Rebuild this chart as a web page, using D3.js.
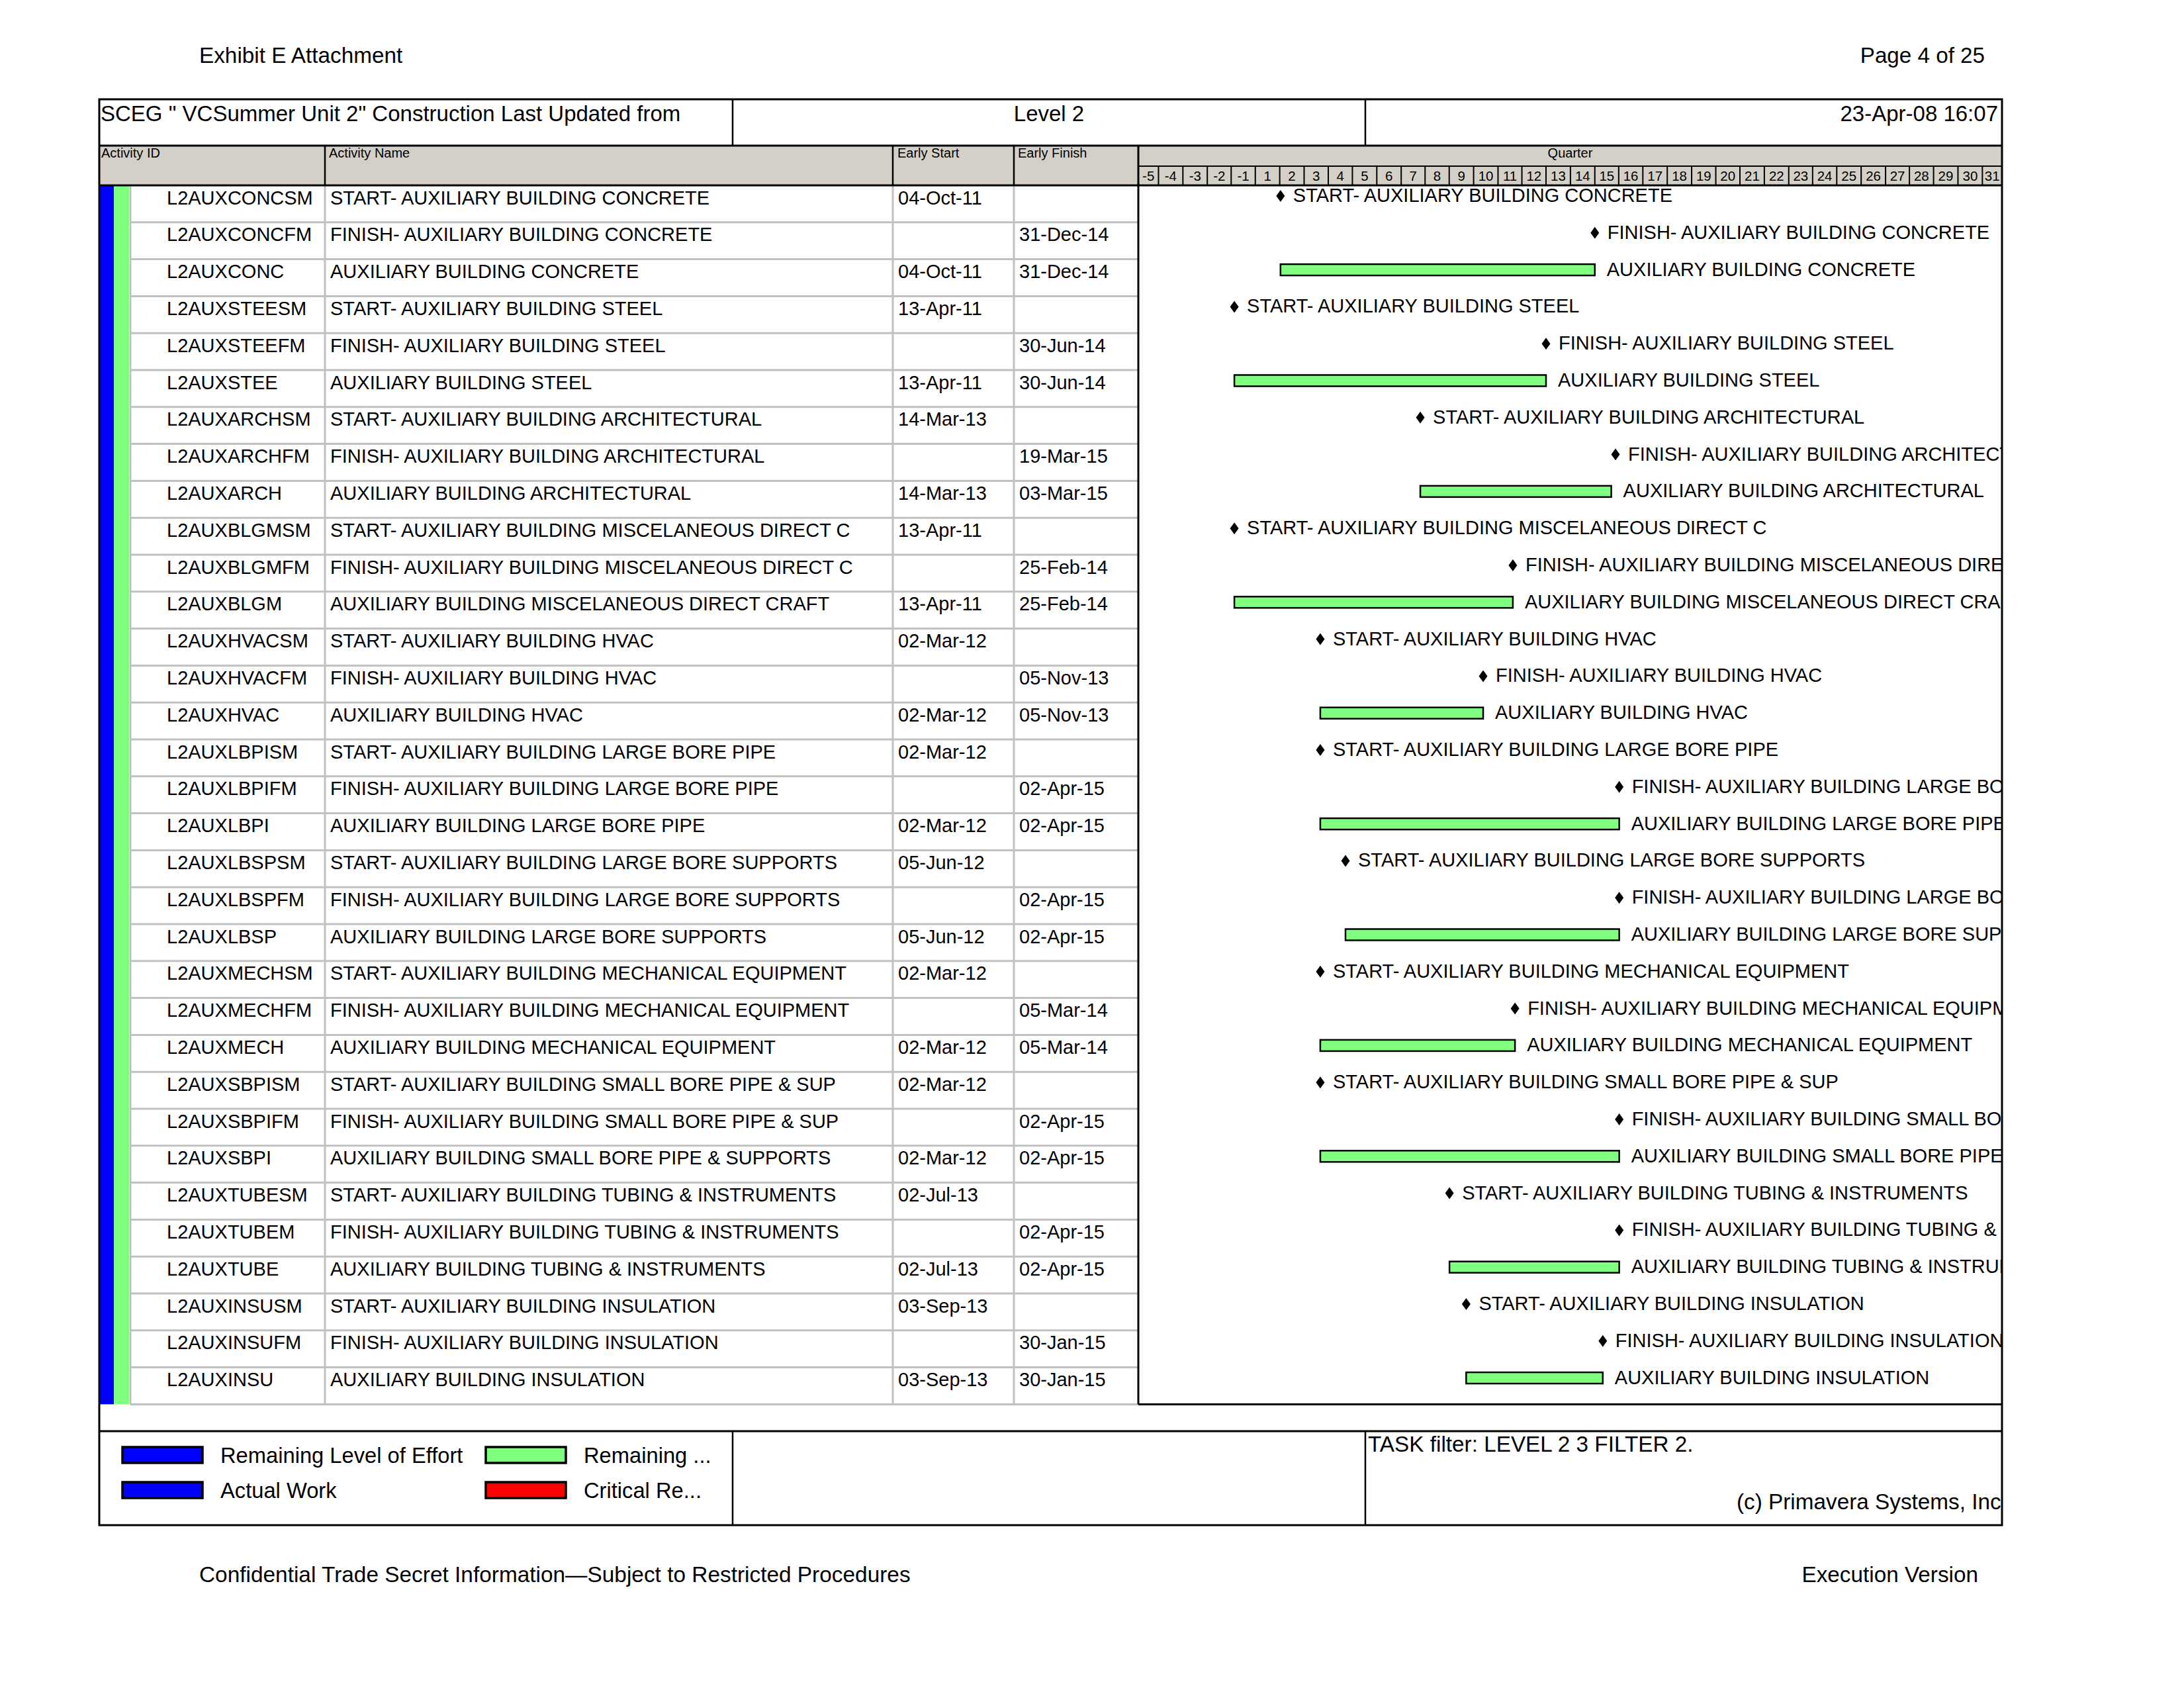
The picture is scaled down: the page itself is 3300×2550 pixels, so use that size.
<!DOCTYPE html>
<html><head><meta charset="utf-8">
<script src="https://cdn.jsdelivr.net/npm/d3@7"></script>
<style>
body{margin:0;background:#fff}
svg{display:block}
text{font-family:"Liberation Sans",Arial,sans-serif;fill:#000}
</style>
</head><body>
<svg id="c" width="3300" height="2550"></svg>
<script>
// ---------------- DATA ----------------
const activityIds = [
 "L2AUXCONCSM","L2AUXCONCFM","L2AUXCONC",
 "L2AUXSTEESM","L2AUXSTEEFM","L2AUXSTEE",
 "L2AUXARCHSM","L2AUXARCHFM","L2AUXARCH",
 "L2AUXBLGMSM","L2AUXBLGMFM","L2AUXBLGM",
 "L2AUXHVACSM","L2AUXHVACFM","L2AUXHVAC",
 "L2AUXLBPISM","L2AUXLBPIFM","L2AUXLBPI",
 "L2AUXLBSPSM","L2AUXLBSPFM","L2AUXLBSP",
 "L2AUXMECHSM","L2AUXMECHFM","L2AUXMECH",
 "L2AUXSBPISM","L2AUXSBPIFM","L2AUXSBPI",
 "L2AUXTUBESM","L2AUXTUBEM","L2AUXTUBE",
 "L2AUXINSUSM","L2AUXINSUFM","L2AUXINSU"
];
const activityNames = [
 "START- AUXILIARY BUILDING CONCRETE","FINISH- AUXILIARY BUILDING CONCRETE","AUXILIARY BUILDING CONCRETE",
 "START- AUXILIARY BUILDING STEEL","FINISH- AUXILIARY BUILDING STEEL","AUXILIARY BUILDING STEEL",
 "START- AUXILIARY BUILDING ARCHITECTURAL","FINISH- AUXILIARY BUILDING ARCHITECTURAL","AUXILIARY BUILDING ARCHITECTURAL",
 "START- AUXILIARY BUILDING MISCELANEOUS DIRECT C","FINISH- AUXILIARY BUILDING MISCELANEOUS DIRECT C","AUXILIARY BUILDING MISCELANEOUS DIRECT CRAFT",
 "START- AUXILIARY BUILDING HVAC","FINISH- AUXILIARY BUILDING HVAC","AUXILIARY BUILDING HVAC",
 "START- AUXILIARY BUILDING LARGE BORE PIPE","FINISH- AUXILIARY BUILDING LARGE BORE PIPE","AUXILIARY BUILDING LARGE BORE PIPE",
 "START- AUXILIARY BUILDING LARGE BORE SUPPORTS","FINISH- AUXILIARY BUILDING LARGE BORE SUPPORTS","AUXILIARY BUILDING LARGE BORE SUPPORTS",
 "START- AUXILIARY BUILDING MECHANICAL EQUIPMENT","FINISH- AUXILIARY BUILDING MECHANICAL EQUIPMENT","AUXILIARY BUILDING MECHANICAL EQUIPMENT",
 "START- AUXILIARY BUILDING SMALL BORE PIPE & SUP","FINISH- AUXILIARY BUILDING SMALL BORE PIPE & SUP","AUXILIARY BUILDING SMALL BORE PIPE & SUPPORTS",
 "START- AUXILIARY BUILDING TUBING & INSTRUMENTS","FINISH- AUXILIARY BUILDING TUBING & INSTRUMENTS","AUXILIARY BUILDING TUBING & INSTRUMENTS",
 "START- AUXILIARY BUILDING INSULATION","FINISH- AUXILIARY BUILDING INSULATION","AUXILIARY BUILDING INSULATION"
];
const earlyStarts = [
 "04-Oct-11","","04-Oct-11",
 "13-Apr-11","","13-Apr-11",
 "14-Mar-13","","14-Mar-13",
 "13-Apr-11","","13-Apr-11",
 "02-Mar-12","","02-Mar-12",
 "02-Mar-12","","02-Mar-12",
 "05-Jun-12","","05-Jun-12",
 "02-Mar-12","","02-Mar-12",
 "02-Mar-12","","02-Mar-12",
 "02-Jul-13","","02-Jul-13",
 "03-Sep-13","","03-Sep-13"
];
const earlyFinishes = [
 "","31-Dec-14","31-Dec-14",
 "","30-Jun-14","30-Jun-14",
 "","19-Mar-15","03-Mar-15",
 "","25-Feb-14","25-Feb-14",
 "","05-Nov-13","05-Nov-13",
 "","02-Apr-15","02-Apr-15",
 "","02-Apr-15","02-Apr-15",
 "","05-Mar-14","05-Mar-14",
 "","02-Apr-15","02-Apr-15",
 "","02-Apr-15","02-Apr-15",
 "","30-Jan-15","30-Jan-15"
];
const quarterLabels = ["-5","-4","-3","-2","-1","1","2","3","4","5","6","7","8","9","10","11","12","13","14","15","16","17","18","19","20","21","22","23","24","25","26","27","28","29","30","31"];
const legendLabels = ["Remaining Level of Effort","Actual Work","Remaining ...","Critical Re..."];
const legendColors = ["#0000ff","#0000ff","#80ff80","#ff0000"];

// ---------------- LAYOUT ----------------
const svg = d3.select("#c");
const FL=150, FR=3025, FT=150, FB=2304;
const TITLE_B=220, QTOP=251, HDR_B=280;
const ROWH=55.8, NROW=activityIds.length;
const TAB_B = HDR_B + NROW*ROWH;
const LEG_T = 2162;
const GX0=1720, GX1=FR;
const colSep=[491,1349,1532];
const ROWFS = 29;
const parse = d3.timeParse("%d-%b-%y");

const x = d3.scaleTime().domain([new Date(2010,3,16), new Date(2019,2,16)]).range([GX0,GX1]);
const y = d3.scaleLinear().domain([0,NROW]).range([HDR_B,TAB_B]);

function txt(g,xx,yy,s,size,anchor){
  return g.append("text").attr("x",xx).attr("y",yy).attr("font-size",size)
    .attr("text-anchor",anchor||"start").text(s);
}
function line(x1,y1,x2,y2,color,w){
  svg.append("line").attr("x1",x1).attr("y1",y1).attr("x2",x2).attr("y2",y2)
   .attr("stroke",color).attr("stroke-width",w);
}

// page header / footer
txt(svg,301,95,"Exhibit E Attachment",33.3);
txt(svg,2999,95,"Page 4 of 25",33.2,"end");
txt(svg,301,2390,"Confidential Trade Secret Information\u2014Subject to Restricted Procedures",33.4);
txt(svg,2989,2390,"Execution Version",33.3,"end");

// header band
svg.append("rect").attr("x",FL).attr("y",TITLE_B).attr("width",FR-FL).attr("height",HDR_B-TITLE_B).attr("fill","#d4d0c8");

// title row
txt(svg,152,183,'SCEG " VCSummer Unit 2" Construction Last Updated from',33);
txt(svg,1585,183,"Level 2",33,"middle");
txt(svg,3019,183,"23-Apr-08 16:07",33,"end");

// column headers
txt(svg,153,238,"Activity ID",20);
txt(svg,497,238,"Activity Name",20);
txt(svg,1356,238,"Early Start",20);
txt(svg,1538,238,"Early Finish",20);
txt(svg,(GX0+GX1)/2,238,"Quarter",20,"middle");

// quarter cells
const qStarts = d3.timeMonth.range(new Date(2010,3,1), new Date(2019,3,1), 3);
const qg = svg.append("g");
qStarts.forEach((d,i)=>{
  const a = Math.max(GX0, x(d));
  const b = Math.min(GX1, x(d3.timeMonth.offset(d,3)));
  if(i>0) qg.append("line").attr("x1",a).attr("x2",a).attr("y1",QTOP).attr("y2",HDR_B).attr("stroke","#000").attr("stroke-width",2);
  txt(qg,(a+b)/2,273,quarterLabels[i],20.5,"middle");
});
line(GX0,QTOP,GX1,QTOP,"#000",2);

// color strips
svg.append("rect").attr("x",151).attr("y",HDR_B).attr("width",21).attr("height",TAB_B-HDR_B).attr("fill","#0000ff");
svg.append("rect").attr("x",172).attr("y",HDR_B).attr("width",23).attr("height",TAB_B-HDR_B).attr("fill","#80ff80");

// table grid
for(let i=1;i<=NROW;i++) line(197,y(i),GX0,y(i),"#c0c0c0",3);
[197].concat(colSep).forEach(cx=>line(cx,HDR_B,cx,TAB_B,"#c0c0c0",3));
colSep.forEach(cx=>line(cx,TITLE_B,cx,HDR_B,"#000",2.5));

// table text
const tg = svg.append("g");
activityIds.forEach((id,i)=>{
  const by = y(i)+28.5;
  txt(tg,252,by,id,ROWFS);
  txt(tg,499,by,activityNames[i],ROWFS);
  if(earlyStarts[i]) txt(tg,1357,by,earlyStarts[i],ROWFS);
  if(earlyFinishes[i]) txt(tg,1540,by,earlyFinishes[i],ROWFS);
});

// gantt
svg.append("clipPath").attr("id","gclip").append("rect")
  .attr("x",GX0).attr("y",HDR_B).attr("width",GX1-GX0-1).attr("height",TAB_B-HDR_B);
const gg = svg.append("g").attr("clip-path","url(#gclip)");
activityIds.forEach((id,i)=>{
  const s = earlyStarts[i] ? parse(earlyStarts[i]) : null;
  const f = earlyFinishes[i] ? d3.timeDay.offset(parse(earlyFinishes[i]),1) : null;
  const top = y(i);
  if(s && f){
    const x0=x(s), x1=x(f);
    gg.append("rect").attr("x",x0).attr("y",top+7.5).attr("width",x1-x0).attr("height",17)
      .attr("fill","#80ff80").attr("stroke","#000").attr("stroke-width",2.5);
    txt(gg,x1+18,top+25,activityNames[i],ROWFS);
  } else {
    const xm = x(s||f), cy = top+16;
    gg.append("path").attr("d",`M${xm},${cy-9}L${xm+6.5},${cy}L${xm},${cy+9}L${xm-6.5},${cy}Z`).attr("fill","#000");
    txt(gg,xm+19,top+25,activityNames[i],ROWFS);
  }
});

// gantt borders
line(GX0,TITLE_B,GX0,TAB_B,"#000",3);
line(GX0,TAB_B,GX1,TAB_B,"#000",3);

// frame & dividers
line(FL,TITLE_B,FR,TITLE_B,"#000",3);
line(FL,HDR_B,FR,HDR_B,"#000",3);
line(1107,FT,1107,TITLE_B,"#000",2.5);
line(2063,FT,2063,TITLE_B,"#000",2.5);
line(FL,LEG_T,FR,LEG_T,"#000",3);
line(1107,LEG_T,1107,FB,"#000",2.5);
line(2063,LEG_T,2063,FB,"#000",2.5);
svg.append("rect").attr("x",FL).attr("y",FT).attr("width",FR-FL).attr("height",FB-FT)
  .attr("fill","none").attr("stroke","#000").attr("stroke-width",3);

// legend
const lg = svg.append("g");
const legPos = [[185,2186],[185,2239],[734,2186],[734,2239]];
legendLabels.forEach((l,i)=>{
  const [lx,ly]=legPos[i];
  lg.append("rect").attr("x",lx).attr("y",ly).attr("width",121).attr("height",24)
    .attr("fill",legendColors[i]).attr("stroke","#000").attr("stroke-width",3.5);
  txt(lg,lx+148,ly+24,l,32.7);
});

// texts in legend area
txt(svg,2067,2193,"TASK filter: LEVEL 2 3 FILTER 2.",33.3);
svg.append("clipPath").attr("id","fclip").append("rect").attr("x",2063).attr("y",LEG_T).attr("width",FR-2063-1).attr("height",FB-LEG_T);
txt(svg.append("g").attr("clip-path","url(#fclip)"),2624,2280,"(c) Primavera Systems, Inc.",33.3);
</script>
</body></html>
